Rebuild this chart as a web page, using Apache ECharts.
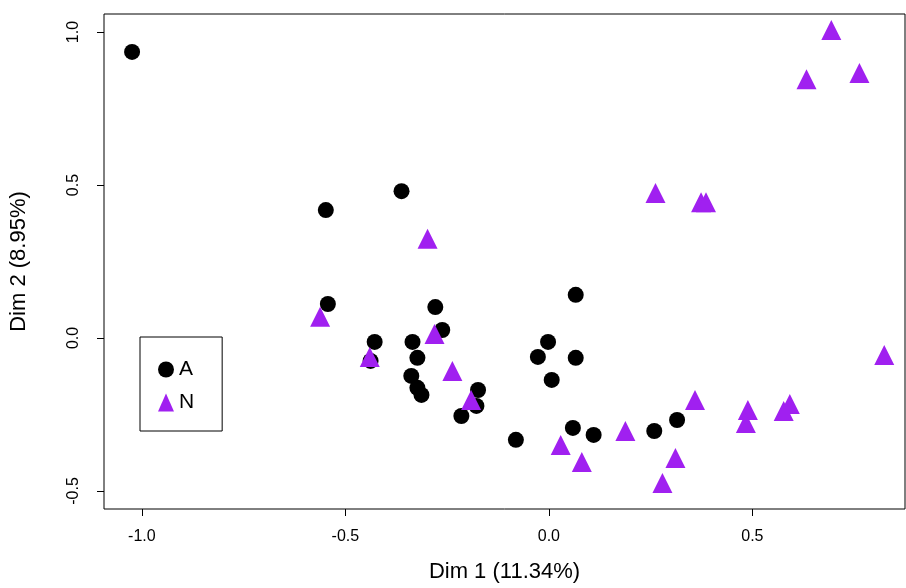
<!DOCTYPE html>
<html><head><meta charset="utf-8">
<script src="https://cdn.jsdelivr.net/npm/echarts@6/dist/echarts.min.js"></script>
<style>body{margin:0}#c{width:906px;height:588px}</style>
</head><body><div id="c"></div>
<script>
var groupA = [[-1.024,0.935],[-0.362,0.480],[-0.548,0.418],[-0.543,0.111],[-0.279,0.101],[-0.262,0.026],
  [-0.428,-0.013],[-0.335,-0.013],[-0.438,-0.075],[-0.323,-0.065],[-0.338,-0.124],[-0.323,-0.163],
  [-0.313,-0.186],[-0.174,-0.170],[-0.178,-0.222],[-0.215,-0.255],[-0.081,-0.333],[-0.027,-0.062],
  [-0.002,-0.013],[0.066,0.141],[0.066,-0.065],[0.007,-0.137],[0.059,-0.294],[0.110,-0.317],
  [0.259,-0.304],[0.315,-0.268]];
var groupN = [[0.694,1.007],[0.763,0.866],[0.633,0.846],[0.262,0.474],[0.374,0.444],[0.386,0.444],
  [-0.298,0.324],[-0.562,0.069],[-0.281,0.013],[-0.440,-0.062],[-0.237,-0.108],[-0.191,-0.203],
  [0.824,-0.056],[0.359,-0.203],[0.489,-0.235],[0.484,-0.278],[0.592,-0.216],[0.577,-0.239],
  [0.188,-0.304],[0.029,-0.350],[0.081,-0.405],[0.311,-0.392],[0.279,-0.474]];
var xTicks = [-1.0, -0.5, 0.0, 0.5];
var yTicks = [-0.5, 0.0, 0.5, 1.0];

var chart = echarts.init(document.getElementById('c'));
var font = 'Liberation Sans, Arial, sans-serif';
chart.setOption({
  animation: false,
  grid: {left: 93, right: 1, top: 14, bottom: 69, show: true, borderColor: '#000', borderWidth: 1},
  xAxis: {
    type: 'value', min: -1.093, max: 0.875,
    name: 'Dim 1 (11.34%)', nameLocation: 'middle', nameGap: 52,
    nameTextStyle: {fontSize: 22, color: '#000', fontFamily: font},
    axisLine: {show: false, onZero: false}, splitLine: {show: false},
    axisTick: {show: true, length: 7, customValues: xTicks, lineStyle: {color: '#000'}},
    axisLabel: {customValues: xTicks, fontSize: 16, color: '#000', margin: 20, fontFamily: font,
      formatter: function (v) { return v.toFixed(1); }}
  },
  yAxis: {
    type: 'value', min: -0.559, max: 1.059,
    name: 'Dim 2 (8.95%)', nameLocation: 'middle', nameGap: 74,
    nameTextStyle: {fontSize: 22, color: '#000', fontFamily: font},
    axisLine: {show: false, onZero: false}, splitLine: {show: false},
    axisTick: {show: true, length: 7, customValues: yTicks, lineStyle: {color: '#000'}},
    axisLabel: {customValues: yTicks, fontSize: 16, color: '#000', margin: 22, rotate: 90, fontFamily: font,
      formatter: function (v) { return v.toFixed(1); }}
  },
  legend: {
    orient: 'vertical', left: 140, top: 337,
    padding: [22, 28, 18, 18], itemGap: 12, itemWidth: 16, itemHeight: 18,
    borderColor: '#000', borderWidth: 1,
    textStyle: {fontSize: 21, color: '#000', fontFamily: font},
    data: [{name: 'A', icon: 'circle'}, {name: 'N', icon: 'triangle'}]
  },
  series: [
    {name: 'A', type: 'scatter', symbol: 'circle', symbolSize: 16, data: groupA, itemStyle: {color: '#000', opacity: 1}},
    {name: 'N', type: 'scatter', symbol: 'triangle', symbolSize: 20, data: groupN, itemStyle: {color: '#A020F0', opacity: 1}}
  ]
});
</script></body></html>
